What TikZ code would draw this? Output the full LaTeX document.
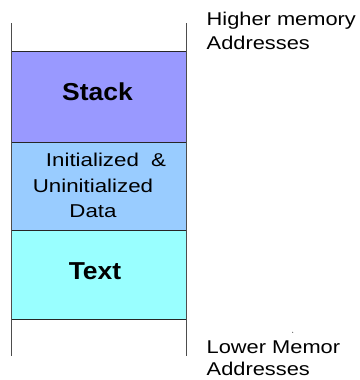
\documentclass[tikz,border=0pt]{standalone}
\usepackage{fontspec}
\setmainfont{Liberation Sans}
\usepackage{graphicx}
\definecolor{stackfill}{HTML}{9999FF}
\definecolor{datafill}{HTML}{99CCFF}
\definecolor{textfill}{HTML}{99FFFF}
\definecolor{edge}{HTML}{262626}
\definecolor{rail}{HTML}{4D4D4D}
\newcommand{\wide}[2][1.18]{\scalebox{#1}[1]{#2}}
\begin{document}
\begin{tikzpicture}[x=1pt,y=-1pt,
  segment/.style={draw=edge, line width=0.9pt, inner sep=0pt, outer sep=0pt,
    minimum width=175pt},
  biglabel/.style={inner sep=0pt, anchor=base,
    font=\fontsize{24.5}{28}\selectfont\bfseries},
  datalabel/.style={inner sep=0pt, anchor=base, align=center,
    font=\fontsize{18.6}{25.5}\selectfont},
  sidelabel/.style={inner sep=0pt, anchor=base west, align=left,
    font=\fontsize{18.5}{24}\selectfont},
  railline/.style={draw=rail, line width=1pt}]
\useasboundingbox (0,0) rectangle (359,380);

% memory segments, top to bottom
\node[segment, fill=stackfill, minimum height=91pt]   (stack) at (98.5,96.5)   {};
\node[segment, fill=datafill,  minimum height=88.5pt] (data)  at (98.5,186.25) {};
\node[segment, fill=textfill,  minimum height=88.5pt] (text)  at (98.5,274.75) {};

% side rails of the address space
\coordinate (railTL) at (11,23);
\coordinate (railBL) at (11,356);
\coordinate (railTR) at (186,23);
\coordinate (railBR) at (186,356);
\draw[railline] (railTL) -- (railBL);
\draw[railline] (railTR) -- (railBR);

% segment names (multi-line labels are placed by their last baseline)
\node[biglabel] (stacklbl) at (97.5,100)  {\wide[1.08]{Stack}};
\node[biglabel] (textlbl)  at (95,279.3)  {\wide[1.08]{Text}};
\node[datalabel] (datalbl) at (93,217.7)
  {\hspace*{26pt}\wide[1.2]{Initialized\hspace{5pt} \&}\\
   \wide[1.2]{Uninitialized}\\
   \wide[1.2]{Data}};

% address direction labels
\node[sidelabel] (hilbl) at (206.5,49.3)
  {\wide{Higher memory}\\\wide{Addresses}};
\node[sidelabel, font=\fontsize{18.5}{22}\selectfont] (lolbl) at (206.5,375)
  {\wide{Lower Memor}\\\wide{Addresses}};
\fill[black!70] (292.7,332.3) circle (0.6pt);
\end{tikzpicture}
\end{document}
